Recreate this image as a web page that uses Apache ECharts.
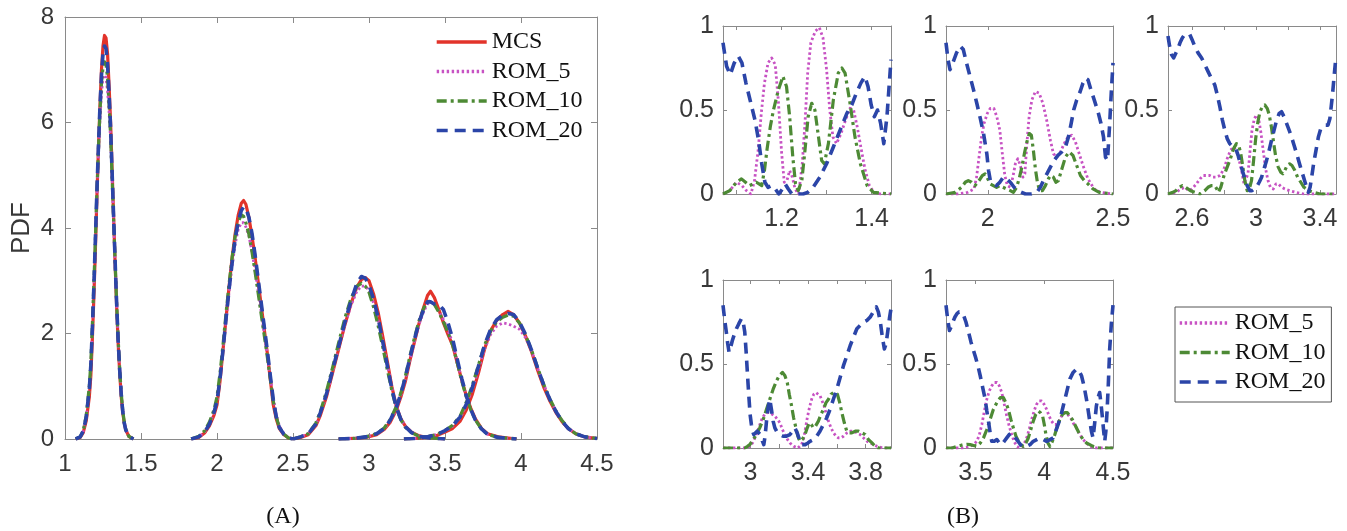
<!DOCTYPE html>
<html>
<head>
<meta charset="utf-8">
<script src="https://cdn.jsdelivr.net/npm/echarts@6/dist/echarts.min.js"></script>
<style>
  html, body { margin: 0; padding: 0; background: #ffffff; }
  #chart { width: 1347px; height: 531px; }
</style>
</head>
<body>
<div id="chart"></div>
<script>
// ---------- (A) PDF of the five modes: x grids per mode ----------
const X_MODE_1 = [1.07,1.10,1.12,1.14,1.16,1.17,1.18,1.19,1.20,1.21,1.22,1.23,1.24,1.25,1.26,1.27,1.28,1.29,1.30,1.31,1.32,1.33,1.34,1.35,1.36,1.37,1.38,1.39,1.40,1.42,1.45];
const X_MODE_2 = [1.83,1.88,1.92,1.95,1.98,2.00,2.02,2.04,2.06,2.08,2.10,2.12,2.14,2.16,2.175,2.19,2.21,2.23,2.25,2.27,2.29,2.31,2.33,2.35,2.37,2.39,2.41,2.44,2.47,2.50];
const X_MODE_3 = [2.50,2.55,2.60,2.65,2.68,2.72,2.76,2.80,2.84,2.88,2.92,2.95,2.975,3.00,3.03,3.06,3.09,3.12,3.15,3.18,3.21,3.24,3.28,3.33,3.40,3.50];
const X_MODE_4 = [2.80,2.90,2.98,3.05,3.10,3.14,3.18,3.21,3.24,3.27,3.30,3.33,3.36,3.385,3.405,3.43,3.46,3.49,3.52,3.55,3.58,3.61,3.64,3.67,3.70,3.74,3.78,3.85,3.97];
const X_MODE_5 = [3.23,3.30,3.38,3.45,3.50,3.55,3.60,3.64,3.68,3.72,3.76,3.80,3.84,3.88,3.915,3.95,3.99,4.03,4.07,4.11,4.15,4.19,4.23,4.27,4.31,4.36,4.42,4.50];

// MCS reference PDF, one list per mode
const MCS_M1 = [0,0.03,0.12,0.35,0.8,1.2,1.9,2.7,3.6,4.6,5.5,6.3,7.0,7.45,7.65,7.6,7.3,6.7,6.0,5.1,4.2,3.3,2.5,1.8,1.25,0.8,0.5,0.3,0.17,0.05,0];
const MCS_M2 = [0,0.03,0.12,0.25,0.45,0.65,1.1,1.7,2.3,2.9,3.45,3.9,4.25,4.47,4.52,4.45,4.2,3.85,3.45,3.0,2.55,2.1,1.65,1.15,0.65,0.38,0.2,0.08,0.02,0];
const MCS_M3 = [0,0.03,0.08,0.25,0.45,0.8,1.25,1.7,2.15,2.55,2.88,3.02,3.06,3.0,2.75,2.4,1.95,1.48,1.0,0.62,0.38,0.24,0.13,0.06,0.02,0];
const MCS_M4 = [0,0.01,0.03,0.08,0.18,0.32,0.55,0.8,1.1,1.5,1.85,2.2,2.5,2.72,2.8,2.68,2.45,2.2,1.98,1.78,1.45,1.12,0.82,0.58,0.38,0.2,0.1,0.04,0];
const MCS_M5 = [0,0.01,0.03,0.07,0.13,0.2,0.34,0.55,0.85,1.25,1.7,2.05,2.25,2.36,2.42,2.36,2.2,1.95,1.65,1.3,0.98,0.72,0.5,0.33,0.2,0.1,0.04,0.01];

// ROM_5
const ROM5_M1 = [0,0.04,0.15,0.42,0.95,1.4,2.1,2.9,3.75,4.6,5.4,6.05,6.55,6.85,6.9,6.85,6.6,6.2,5.65,4.9,4.1,3.3,2.55,1.88,1.32,0.87,0.54,0.32,0.18,0.05,0];
const ROM5_M2 = [0,0.04,0.14,0.28,0.5,0.72,1.15,1.7,2.25,2.8,3.3,3.7,3.98,4.1,4.1,4.02,3.85,3.55,3.2,2.82,2.42,2.02,1.62,1.2,0.78,0.46,0.25,0.1,0.03,0];
const ROM5_M3 = [0,0.04,0.1,0.27,0.48,0.83,1.27,1.72,2.15,2.52,2.8,2.9,2.9,2.82,2.58,2.25,1.85,1.42,0.98,0.62,0.38,0.24,0.13,0.06,0.02,0];
const ROM5_M4 = [0,0.01,0.04,0.09,0.19,0.34,0.57,0.83,1.14,1.5,1.86,2.18,2.42,2.56,2.6,2.55,2.42,2.26,2.06,1.82,1.48,1.13,0.82,0.56,0.36,0.19,0.09,0.03,0];
const ROM5_M5 = [0,0.01,0.04,0.09,0.15,0.24,0.4,0.64,0.95,1.32,1.7,1.98,2.14,2.2,2.18,2.14,2.08,1.92,1.66,1.34,1.03,0.76,0.53,0.35,0.21,0.1,0.04,0.01];

// ROM_10
const ROM10_M1 = [0,0.04,0.16,0.45,1.0,1.45,2.15,2.95,3.8,4.7,5.5,6.2,6.75,7.05,7.15,7.1,6.85,6.35,5.75,4.95,4.15,3.35,2.55,1.88,1.32,0.87,0.54,0.32,0.18,0.05,0];
const ROM10_M2 = [0,0.05,0.16,0.32,0.55,0.8,1.25,1.8,2.4,2.95,3.45,3.85,4.12,4.25,4.22,4.1,3.88,3.55,3.18,2.78,2.38,1.98,1.58,1.15,0.72,0.42,0.22,0.09,0.02,0];
const ROM10_M3 = [0,0.04,0.1,0.3,0.52,0.9,1.35,1.82,2.28,2.65,2.9,2.95,2.9,2.78,2.5,2.15,1.75,1.32,0.92,0.58,0.36,0.22,0.12,0.05,0.02,0];
const ROM10_M4 = [0,0.01,0.04,0.1,0.21,0.37,0.62,0.88,1.2,1.58,1.93,2.25,2.48,2.6,2.62,2.55,2.4,2.22,2.02,1.78,1.45,1.1,0.8,0.55,0.36,0.19,0.09,0.03,0];
const ROM10_M5 = [0,0.01,0.04,0.09,0.16,0.26,0.44,0.7,1.02,1.4,1.78,2.05,2.22,2.31,2.35,2.33,2.2,1.97,1.68,1.35,1.03,0.76,0.53,0.35,0.21,0.1,0.04,0.01];

// ROM_20
const ROM20_M1 = [0,0.04,0.15,0.42,0.95,1.4,2.1,2.9,3.8,4.7,5.55,6.3,6.9,7.3,7.45,7.4,7.1,6.55,5.9,5.05,4.2,3.35,2.55,1.85,1.3,0.85,0.52,0.3,0.17,0.05,0];
const ROM20_M2 = [0,0.04,0.14,0.28,0.5,0.72,1.15,1.7,2.3,2.85,3.35,3.8,4.12,4.33,4.4,4.38,4.2,3.9,3.5,3.05,2.6,2.15,1.7,1.22,0.75,0.42,0.22,0.09,0.02,0];
const ROM20_M3 = [0,0.04,0.1,0.28,0.5,0.85,1.3,1.75,2.2,2.6,2.95,3.08,3.05,2.92,2.65,2.3,1.85,1.4,0.95,0.6,0.37,0.23,0.12,0.05,0.02,0];
const ROM20_M4 = [0,0.01,0.04,0.1,0.2,0.36,0.6,0.86,1.18,1.55,1.9,2.22,2.46,2.6,2.6,2.56,2.55,2.45,2.2,1.9,1.52,1.15,0.82,0.56,0.36,0.19,0.09,0.03,0];
const ROM20_M5 = [0,0.01,0.04,0.09,0.16,0.25,0.42,0.66,0.98,1.38,1.78,2.08,2.26,2.35,2.38,2.36,2.22,1.98,1.68,1.34,1.02,0.75,0.52,0.34,0.2,0.1,0.04,0.01];

// ---------- (B) normalised error per mode, [x, value] pairs ----------
const B1_ROM5 = [[1.070,0],[1.085,0.02],[1.100,0.07],[1.112,0.05],[1.122,0.02],[1.132,0],[1.140,0.08],[1.148,0.26],[1.155,0.48],[1.162,0.66],[1.170,0.78],[1.178,0.81],[1.186,0.77],[1.193,0.55],[1.200,0.25],[1.206,0.07],[1.212,0.08],[1.218,0.14],[1.224,0.10],[1.230,0.03],[1.238,0],[1.246,0.18],[1.252,0.42],[1.258,0.72],[1.265,0.90],[1.275,0.97],[1.284,0.99],[1.292,0.93],[1.300,0.74],[1.307,0.50],[1.314,0.34],[1.322,0.30],[1.332,0.36],[1.342,0.44],[1.352,0.51],[1.360,0.50],[1.368,0.40],[1.376,0.28],[1.385,0.15],[1.395,0.05],[1.405,0.01],[1.420,0],[1.443,0]];
const B1_ROM10 = [[1.070,0],[1.085,0.02],[1.100,0.07],[1.111,0.09],[1.120,0.07],[1.129,0.05],[1.137,0.06],[1.144,0.07],[1.150,0.06],[1.156,0.05],[1.162,0.14],[1.168,0.27],[1.175,0.40],[1.182,0.50],[1.193,0.62],[1.203,0.70],[1.211,0.64],[1.218,0.46],[1.225,0.22],[1.231,0.06],[1.237,0.02],[1.245,0.08],[1.252,0.26],[1.259,0.46],[1.267,0.54],[1.274,0.50],[1.282,0.34],[1.289,0.20],[1.295,0.18],[1.304,0.30],[1.315,0.56],[1.326,0.72],[1.334,0.75],[1.341,0.72],[1.352,0.54],[1.363,0.34],[1.375,0.18],[1.390,0.05],[1.404,0.01],[1.443,0]];
const B1_ROM20 = [[1.070,0.90],[1.078,0.76],[1.086,0.71],[1.095,0.78],[1.104,0.82],[1.112,0.78],[1.121,0.66],[1.131,0.55],[1.141,0.44],[1.149,0.32],[1.156,0.18],[1.163,0.07],[1.170,0.04],[1.178,0.05],[1.186,0.03],[1.194,0],[1.202,0.03],[1.208,0.06],[1.215,0.03],[1.223,0],[1.235,0],[1.248,0],[1.258,0.01],[1.270,0.04],[1.285,0.10],[1.300,0.18],[1.315,0.28],[1.330,0.38],[1.345,0.48],[1.356,0.53],[1.366,0.60],[1.376,0.66],[1.385,0.70],[1.392,0.64],[1.399,0.53],[1.406,0.46],[1.413,0.50],[1.420,0.42],[1.427,0.30],[1.434,0.46],[1.443,0.80]];

const B2_ROM5 = [[1.833,0],[1.880,0],[1.920,0.01],[1.945,0.03],[1.955,0.10],[1.965,0.22],[1.975,0.34],[1.985,0.42],[1.998,0.48],[2.010,0.51],[2.024,0.51],[2.036,0.46],[2.048,0.38],[2.058,0.24],[2.068,0.11],[2.078,0.05],[2.090,0.04],[2.100,0.10],[2.110,0.18],[2.120,0.21],[2.130,0.17],[2.140,0.10],[2.148,0.12],[2.156,0.30],[2.165,0.46],[2.176,0.56],[2.190,0.61],[2.205,0.60],[2.220,0.54],[2.235,0.44],[2.250,0.32],[2.262,0.24],[2.275,0.22],[2.290,0.25],[2.305,0.30],[2.320,0.34],[2.335,0.35],[2.350,0.31],[2.365,0.24],[2.380,0.17],[2.400,0.09],[2.425,0.03],[2.450,0.01],[2.500,0]];
const B2_ROM10 = [[1.833,0],[1.870,0.01],[1.895,0.04],[1.910,0.07],[1.922,0.08],[1.935,0.07],[1.949,0.05],[1.965,0.08],[1.978,0.11],[1.989,0.12],[2.000,0.09],[2.010,0.06],[2.022,0.05],[2.035,0.04],[2.048,0.05],[2.060,0.04],[2.075,0.03],[2.090,0.02],[2.102,0.01],[2.115,0.04],[2.125,0.09],[2.136,0.16],[2.146,0.24],[2.156,0.31],[2.166,0.36],[2.174,0.35],[2.182,0.26],[2.190,0.15],[2.198,0.07],[2.207,0.02],[2.218,0.02],[2.230,0.05],[2.242,0.09],[2.250,0.11],[2.262,0.10],[2.272,0.07],[2.282,0.08],[2.296,0.15],[2.310,0.22],[2.325,0.25],[2.340,0.23],[2.355,0.17],[2.370,0.11],[2.385,0.08],[2.400,0.06],[2.420,0.03],[2.445,0.01],[2.500,0]];
const B2_ROM20 = [[1.833,0.90],[1.841,0.80],[1.849,0.74],[1.860,0.78],[1.875,0.84],[1.890,0.88],[1.902,0.86],[1.915,0.78],[1.929,0.70],[1.943,0.62],[1.956,0.54],[1.970,0.45],[1.983,0.36],[1.996,0.24],[2.003,0.14],[2.010,0.08],[2.022,0.06],[2.035,0.05],[2.048,0.07],[2.062,0.10],[2.075,0.09],[2.090,0.07],[2.105,0.04],[2.120,0.02],[2.135,0.01],[2.150,0],[2.175,0],[2.196,0.01],[2.210,0.04],[2.222,0.08],[2.236,0.12],[2.250,0.16],[2.265,0.20],[2.280,0.23],[2.295,0.25],[2.310,0.28],[2.322,0.34],[2.333,0.42],[2.343,0.50],[2.355,0.56],[2.369,0.61],[2.380,0.66],[2.390,0.69],[2.400,0.68],[2.412,0.62],[2.425,0.56],[2.440,0.49],[2.452,0.42],[2.462,0.34],[2.470,0.22],[2.478,0.20],[2.486,0.40],[2.493,0.60],[2.500,0.78]];

const B3_ROM5 = [[2.45,0],[2.50,0.01],[2.53,0.03],[2.555,0.04],[2.58,0.02],[2.60,0.03],[2.627,0.06],[2.65,0.09],[2.67,0.11],[2.69,0.11],[2.71,0.11],[2.73,0.10],[2.75,0.10],[2.775,0.11],[2.80,0.15],[2.82,0.21],[2.84,0.26],[2.86,0.28],[2.88,0.25],[2.895,0.20],[2.91,0.14],[2.925,0.06],[2.935,0.05],[2.95,0.12],[2.963,0.26],[2.975,0.38],[2.99,0.45],[3.003,0.47],[3.016,0.45],[3.03,0.37],[3.045,0.26],[3.06,0.15],[3.075,0.08],[3.09,0.04],[3.108,0.03],[3.125,0.06],[3.14,0.06],[3.16,0.04],[3.18,0.03],[3.21,0.02],[3.25,0.01],[3.30,0],[3.50,0]];
const B3_ROM10 = [[2.45,0],[2.48,0.01],[2.50,0.02],[2.52,0.04],[2.54,0.05],[2.56,0.04],[2.59,0.02],[2.62,0.01],[2.65,0],[2.68,0.02],[2.70,0.04],[2.72,0.05],[2.742,0.05],[2.755,0.03],[2.765,0.01],[2.78,0.04],[2.80,0.11],[2.82,0.16],[2.84,0.21],[2.86,0.27],[2.878,0.30],[2.892,0.29],[2.905,0.24],[2.918,0.16],[2.93,0.08],[2.945,0.02],[2.958,0.03],[2.972,0.08],[2.985,0.20],[2.998,0.33],[3.012,0.43],[3.025,0.49],[3.04,0.52],[3.055,0.53],[3.07,0.51],[3.083,0.47],[3.096,0.40],[3.108,0.32],[3.122,0.23],[3.139,0.16],[3.155,0.13],[3.168,0.12],[3.18,0.14],[3.195,0.17],[3.21,0.18],[3.225,0.17],[3.243,0.14],[3.26,0.10],[3.28,0.07],[3.30,0.04],[3.33,0.02],[3.36,0.01],[3.40,0],[3.50,0]];
const B3_ROM20 = [[2.45,0.94],[2.46,0.88],[2.472,0.83],[2.485,0.81],[2.497,0.82],[2.51,0.86],[2.525,0.90],[2.54,0.93],[2.555,0.95],[2.57,0.95],[2.586,0.95],[2.60,0.92],[2.617,0.88],[2.638,0.84],[2.66,0.81],[2.68,0.77],[2.70,0.73],[2.72,0.69],[2.742,0.65],[2.758,0.59],[2.774,0.52],[2.79,0.44],[2.805,0.38],[2.82,0.33],[2.836,0.30],[2.855,0.28],[2.874,0.27],[2.888,0.23],[2.90,0.19],[2.915,0.14],[2.93,0.09],[2.945,0.05],[2.961,0.02],[2.975,0.02],[2.99,0.03],[3.003,0.04],[3.02,0.07],[3.035,0.10],[3.05,0.15],[3.066,0.20],[3.082,0.26],[3.097,0.32],[3.113,0.38],[3.129,0.44],[3.145,0.48],[3.16,0.49],[3.175,0.46],[3.191,0.42],[3.207,0.38],[3.222,0.34],[3.238,0.29],[3.254,0.24],[3.272,0.18],[3.291,0.12],[3.31,0.06],[3.327,0.01],[3.338,0.04],[3.348,0.10],[3.36,0.18],[3.375,0.26],[3.39,0.34],[3.405,0.39],[3.42,0.40],[3.435,0.41],[3.45,0.41],[3.462,0.45],[3.47,0.52],[3.479,0.60],[3.49,0.72],[3.50,0.82]];

const B4_ROM5 = [[2.81,0],[2.90,0],[2.96,0],[2.996,0.01],[3.015,0.03],[3.031,0.06],[3.05,0.10],[3.066,0.14],[3.083,0.18],[3.10,0.20],[3.118,0.21],[3.135,0.21],[3.152,0.20],[3.17,0.19],[3.188,0.17],[3.205,0.15],[3.222,0.11],[3.24,0.08],[3.258,0.05],[3.275,0.03],[3.30,0.01],[3.33,0],[3.355,0.02],[3.368,0.05],[3.379,0.10],[3.395,0.18],[3.41,0.24],[3.425,0.29],[3.44,0.32],[3.455,0.33],[3.47,0.32],[3.484,0.31],[3.498,0.28],[3.512,0.25],[3.527,0.20],[3.542,0.16],[3.56,0.12],[3.577,0.09],[3.595,0.07],[3.611,0.06],[3.628,0.06],[3.646,0.07],[3.67,0.09],[3.693,0.10],[3.716,0.10],[3.739,0.09],[3.762,0.08],[3.786,0.06],[3.81,0.04],[3.832,0.03],[3.856,0.02],[3.879,0.01],[3.92,0],[3.976,0]];
const B4_ROM10 = [[2.81,0],[2.90,0],[2.961,0],[2.98,0.01],[2.996,0.02],[3.02,0.05],[3.042,0.08],[3.065,0.12],[3.089,0.17],[3.112,0.23],[3.135,0.29],[3.158,0.35],[3.182,0.40],[3.20,0.43],[3.223,0.45],[3.24,0.43],[3.256,0.39],[3.27,0.32],[3.286,0.25],[3.30,0.18],[3.316,0.12],[3.33,0.07],[3.344,0.04],[3.36,0.05],[3.379,0.08],[3.395,0.12],[3.409,0.15],[3.423,0.14],[3.437,0.12],[3.452,0.13],[3.472,0.16],[3.49,0.20],[3.507,0.23],[3.525,0.27],[3.542,0.29],[3.56,0.32],[3.577,0.33],[3.59,0.33],[3.604,0.32],[3.62,0.27],[3.635,0.21],[3.652,0.15],[3.669,0.10],[3.685,0.09],[3.704,0.09],[3.728,0.10],[3.751,0.10],[3.774,0.09],[3.797,0.08],[3.82,0.05],[3.844,0.03],[3.867,0.01],[3.89,0],[3.976,0]];
const B4_ROM20 = [[2.81,0.85],[2.822,0.76],[2.833,0.69],[2.843,0.62],[2.852,0.57],[2.863,0.60],[2.875,0.64],[2.89,0.68],[2.903,0.71],[2.92,0.74],[2.938,0.77],[2.95,0.75],[2.961,0.69],[2.97,0.58],[2.977,0.48],[2.984,0.38],[2.991,0.29],[2.998,0.20],[3.007,0.14],[3.015,0.10],[3.024,0.08],[3.035,0.09],[3.047,0.10],[3.058,0.10],[3.07,0.08],[3.08,0.05],[3.093,0.02],[3.102,0.07],[3.112,0.16],[3.123,0.24],[3.135,0.29],[3.146,0.23],[3.158,0.16],[3.17,0.12],[3.182,0.10],[3.205,0.08],[3.228,0.07],[3.25,0.07],[3.275,0.08],[3.292,0.10],[3.309,0.12],[3.325,0.09],[3.34,0.05],[3.352,0.02],[3.363,0.01],[3.38,0.02],[3.40,0.03],[3.414,0.04],[3.437,0.05],[3.46,0.07],[3.483,0.10],[3.507,0.14],[3.53,0.18],[3.553,0.23],[3.576,0.29],[3.60,0.35],[3.623,0.42],[3.646,0.49],[3.67,0.55],[3.693,0.61],[3.716,0.66],[3.739,0.71],[3.762,0.73],[3.786,0.75],[3.81,0.76],[3.832,0.78],[3.853,0.81],[3.874,0.84],[3.888,0.81],[3.902,0.75],[3.916,0.66],[3.93,0.59],[3.942,0.62],[3.953,0.69],[3.965,0.77],[3.976,0.83]];

const B5_ROM5 = [[3.285,0],[3.40,0],[3.44,0.005],[3.461,0.01],[3.485,0.02],[3.51,0.04],[3.528,0.08],[3.546,0.14],[3.564,0.22],[3.582,0.29],[3.60,0.34],[3.618,0.37],[3.636,0.39],[3.655,0.39],[3.673,0.37],[3.691,0.33],[3.709,0.26],[3.727,0.19],[3.745,0.13],[3.763,0.08],[3.78,0.04],[3.80,0.01],[3.82,0],[3.84,0.01],[3.856,0.03],[3.872,0.06],[3.89,0.11],[3.908,0.17],[3.926,0.22],[3.944,0.26],[3.963,0.28],[3.981,0.28],[3.999,0.26],[4.017,0.23],[4.035,0.19],[4.053,0.16],[4.071,0.14],[4.089,0.14],[4.108,0.16],[4.126,0.19],[4.144,0.21],[4.162,0.21],[4.18,0.19],[4.198,0.17],[4.216,0.14],[4.234,0.12],[4.258,0.08],[4.283,0.05],[4.307,0.03],[4.331,0.01],[4.36,0],[4.50,0]];
const B5_ROM10 = [[3.285,0],[3.33,0],[3.365,0.01],[3.39,0.015],[3.413,0.02],[3.437,0.022],[3.461,0.02],[3.485,0.015],[3.51,0.01],[3.535,0.03],[3.558,0.06],[3.582,0.11],[3.606,0.17],[3.63,0.23],[3.655,0.27],[3.68,0.30],[3.703,0.30],[3.72,0.27],[3.739,0.23],[3.757,0.17],[3.775,0.12],[3.794,0.07],[3.812,0.04],[3.83,0.02],[3.848,0.01],[3.866,0.03],[3.884,0.06],[3.902,0.11],[3.92,0.16],[3.938,0.20],[3.957,0.22],[3.972,0.21],[3.988,0.19],[4.00,0.14],[4.012,0.08],[4.026,0.03],[4.041,0.01],[4.059,0.04],[4.077,0.08],[4.095,0.13],[4.113,0.17],[4.132,0.20],[4.15,0.21],[4.168,0.21],[4.186,0.19],[4.204,0.17],[4.222,0.14],[4.24,0.11],[4.258,0.08],[4.283,0.05],[4.307,0.03],[4.331,0.02],[4.355,0.01],[4.40,0],[4.50,0]];
const B5_ROM20 = [[3.285,0.85],[3.298,0.76],[3.31,0.70],[3.322,0.72],[3.335,0.75],[3.35,0.78],[3.365,0.80],[3.38,0.81],[3.395,0.81],[3.413,0.79],[3.43,0.75],[3.449,0.69],[3.467,0.63],[3.485,0.58],[3.50,0.54],[3.517,0.49],[3.534,0.43],[3.552,0.36],[3.57,0.29],[3.582,0.22],[3.594,0.16],[3.606,0.09],[3.618,0.04],[3.636,0.04],[3.655,0.05],[3.673,0.03],[3.691,0.02],[3.709,0.04],[3.727,0.06],[3.745,0.08],[3.763,0.09],[3.78,0.07],[3.80,0.05],[3.818,0.03],[3.836,0.01],[3.872,0.01],[3.896,0.02],[3.92,0.04],[3.945,0.05],[3.969,0.06],[3.993,0.05],[4.017,0.04],[4.041,0.05],[4.065,0.06],[4.083,0.10],[4.101,0.14],[4.12,0.19],[4.138,0.25],[4.162,0.33],[4.186,0.41],[4.21,0.45],[4.234,0.47],[4.252,0.46],[4.271,0.43],[4.289,0.37],[4.307,0.29],[4.32,0.22],[4.331,0.16],[4.343,0.10],[4.355,0.06],[4.367,0.15],[4.379,0.25],[4.391,0.30],[4.403,0.33],[4.412,0.27],[4.422,0.19],[4.431,0.11],[4.44,0.04],[4.448,0.10],[4.457,0.22],[4.466,0.38],[4.476,0.59],[4.488,0.74],[4.50,0.85]];

// ---------- axis ranges and tick values ----------
const A_X_TICKS = [1, 1.5, 2, 2.5, 3, 3.5, 4, 4.5];
const A_Y_TICKS = [0, 2, 4, 6, 8];
const B_Y_TICKS = [0, 0.5, 1];
const B_X_RANGES = [[1.07, 1.443], [1.833, 2.5], [2.45, 3.5], [2.81, 3.976], [3.285, 4.5]];
const B_X_LABELS = [[1.2, 1.4], [2, 2.5], [2.6, 3, 3.4], [3, 3.4, 3.8], [3.5, 4, 4.5]];
const B_X_TICKS = [[1.1, 1.2, 1.3, 1.4], [2, 2.5], [2.6, 2.8, 3, 3.2, 3.4], [3, 3.2, 3.4, 3.6, 3.8], [3.5, 4, 4.5]];

// ---------- styling ----------
const SANS = '"Liberation Sans", Arial, Helvetica, sans-serif';
const SERIF = '"Liberation Serif", "Times New Roman", serif';
const AXIS_GREY = '#8a8a8a';
const LABEL_GREY = '#383838';

const STYLE = {
  'MCS':    { color: '#e2332a', width: 3.2, type: 'solid' },
  'ROM_5':  { color: '#c752c3', width: 2.8, type: [2.4, 2.6] },
  'ROM_10': { color: '#4d8a35', width: 3.2, type: [10, 4, 3, 4] },
  'ROM_20': { color: '#2b45a8', width: 3.6, type: [11, 7] }
};

// layout of the six plot boxes (px)
const GRIDS = [
  { left: 65,   top: 17,  width: 532, height: 422 },
  { left: 723,  top: 26,  width: 168, height: 168 },
  { left: 946,  top: 26,  width: 167, height: 168 },
  { left: 1168, top: 26,  width: 168, height: 168 },
  { left: 723,  top: 280, width: 168, height: 168 },
  { left: 946,  top: 280, width: 167, height: 168 }
];

function pairs(xs, ys) { return xs.map((x, i) => [x, ys[i]]); }

function makeAxes(dim, gridIndex, min, max, labelVals, tickVals, tickLen, labelMargin, fontSize) {
  const common = {
    type: 'value', gridIndex, min, max, scale: true,
    splitLine: { show: false },
    axisLine: { show: true, onZero: false, lineStyle: { color: AXIS_GREY, width: 1 } },
    axisTick: { show: true, inside: true, length: tickLen, customValues: tickVals, lineStyle: { color: AXIS_GREY, width: 1 } }
  };
  const main = Object.assign({}, common, {
    position: dim === 'x' ? 'bottom' : 'left',
    axisLabel: { show: true, customValues: labelVals, margin: labelMargin, color: LABEL_GREY,
                 fontFamily: SANS, fontSize, showMinLabel: true, showMaxLabel: true }
  });
  const mirror = Object.assign({}, common, {
    position: dim === 'x' ? 'top' : 'right',
    axisLabel: { show: false }
  });
  return [main, mirror];
}

const xAxes = [], yAxes = [];
// panel (A)
xAxes.push(...makeAxes('x', 0, 1, 4.5, A_X_TICKS, A_X_TICKS, 6, 13, 24));
const aY = makeAxes('y', 0, 0, 8, A_Y_TICKS, A_Y_TICKS, 6, 11, 24);
aY[0].name = 'PDF';
aY[0].nameLocation = 'middle';
aY[0].nameGap = 30;
aY[0].nameTextStyle = { fontFamily: SANS, fontSize: 26, color: LABEL_GREY };
yAxes.push(...aY);
// panel (B)
for (let k = 0; k < 5; k++) {
  const g = k + 1;
  xAxes.push(...makeAxes('x', g, B_X_RANGES[k][0], B_X_RANGES[k][1], B_X_LABELS[k], B_X_TICKS[k], 4, 13, 25));
  yAxes.push(...makeAxes('y', g, 0, 1, B_Y_TICKS, B_Y_TICKS, 4, 9, 25));
}

function lineSeries(name, gridIdx, data) {
  const s = STYLE[name];
  return {
    type: 'line', name, data,
    xAxisIndex: gridIdx * 2, yAxisIndex: gridIdx * 2,
    symbol: 'none', showSymbol: false, smooth: false, clip: true,
    lineStyle: { color: s.color, width: s.width, type: s.type, cap: 'butt', join: 'round' },
    itemStyle: { color: s.color, opacity: 0 },
    emphasis: { disabled: true },
    silent: true
  };
}

const series = [];
const A_X = [X_MODE_1, X_MODE_2, X_MODE_3, X_MODE_4, X_MODE_5];
const A_CURVES = {
  'MCS':    [MCS_M1, MCS_M2, MCS_M3, MCS_M4, MCS_M5],
  'ROM_5':  [ROM5_M1, ROM5_M2, ROM5_M3, ROM5_M4, ROM5_M5],
  'ROM_10': [ROM10_M1, ROM10_M2, ROM10_M3, ROM10_M4, ROM10_M5],
  'ROM_20': [ROM20_M1, ROM20_M2, ROM20_M3, ROM20_M4, ROM20_M5]
};
for (const name of ['MCS', 'ROM_5', 'ROM_10', 'ROM_20']) {
  A_CURVES[name].forEach((ys, m) => series.push(lineSeries(name, 0, pairs(A_X[m], ys))));
}
const B_CURVES = {
  'ROM_5':  [B1_ROM5, B2_ROM5, B3_ROM5, B4_ROM5, B5_ROM5],
  'ROM_10': [B1_ROM10, B2_ROM10, B3_ROM10, B4_ROM10, B5_ROM10],
  'ROM_20': [B1_ROM20, B2_ROM20, B3_ROM20, B4_ROM20, B5_ROM20]
};
for (let k = 0; k < 5; k++) {
  for (const name of ['ROM_5', 'ROM_10', 'ROM_20']) {
    series.push(lineSeries(name, k + 1, B_CURVES[name][k]));
  }
}

const legendText = { fontFamily: SERIF, fontSize: 24, color: '#111111', lineHeight: 24 };
// legend keys show the line only (no marker), drawn a little heavier
const legendMarker = { opacity: 0, borderWidth: 0 };
const legendLine = { width: 3.4 };

const option = {
  animation: false,
  backgroundColor: '#ffffff',
  grid: GRIDS.map(g => Object.assign({ containLabel: false, show: false }, g)),
  xAxis: xAxes,
  yAxis: yAxes,
  legend: [
    {
      data: ['MCS', 'ROM_5', 'ROM_10', 'ROM_20'],
      orient: 'vertical', left: 435, top: 30, padding: 0,
      itemWidth: 50, itemHeight: 14, itemGap: 5.5,
      itemStyle: legendMarker, lineStyle: legendLine,
      selectedMode: false, textStyle: legendText
    },
    {
      data: ['ROM_5', 'ROM_10', 'ROM_20'],
      orient: 'vertical', left: 1175, top: 307, padding: [4, 6, 8, 3],
      borderColor: '#555555', borderWidth: 1,
      itemWidth: 50, itemHeight: 14, itemGap: 5.5,
      itemStyle: legendMarker, lineStyle: legendLine,
      selectedMode: false, textStyle: legendText
    }
  ],
  graphic: [
    { type: 'text', x: 283, y: 517, style: { text: '(A)', font: '24px ' + SERIF, fill: '#111111', align: 'center', verticalAlign: 'middle' } },
    { type: 'text', x: 963, y: 517, style: { text: '(B)', font: '24px ' + SERIF, fill: '#111111', align: 'center', verticalAlign: 'middle' } }
  ],
  series
};

const chart = echarts.init(document.getElementById('chart'), null, { renderer: 'canvas' });
chart.setOption(option);
</script>
</body>
</html>
